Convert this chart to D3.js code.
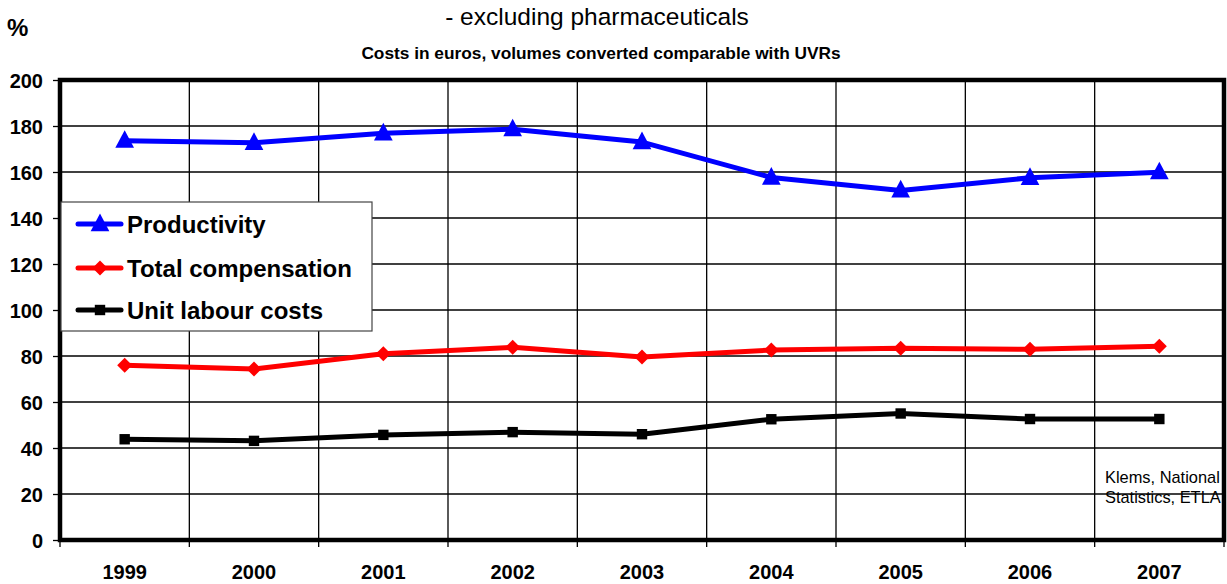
<!DOCTYPE html>
<html>
<head>
<meta charset="utf-8">
<script src="https://cdn.jsdelivr.net/npm/d3@7"></script>
<style>
  html, body { margin: 0; padding: 0; background: #fff; }
  svg { display: block; font-family: Arial, "Liberation Sans", sans-serif; }
</style>
</head>
<body>
<svg id="chart" width="1227" height="584"></svg>
<script>
// Index series, 1999–2007
const years = ["1999", "2000", "2001", "2002", "2003", "2004", "2005", "2006", "2007"];
const productivity = [173.6, 172.7, 176.8, 178.6, 173.0, 157.6, 152.0, 157.5, 159.9];
const totalCompensation = [76.0, 74.3, 81.0, 83.8, 79.6, 82.6, 83.4, 82.9, 84.2];
const unitLabourCosts = [43.8, 43.1, 45.7, 46.9, 46.0, 52.5, 55.0, 52.6, 52.6];
const yTicks = [0, 20, 40, 60, 80, 100, 120, 140, 160, 180, 200];

const seriesList = [
  { name: "Productivity", values: productivity, color: "#0000ff", marker: "triangle" },
  { name: "Total compensation", values: totalCompensation, color: "#ff0000", marker: "diamond" },
  { name: "Unit labour costs", values: unitLabourCosts, color: "#000000", marker: "square" }
];

const FONT = "Arial, 'Liberation Sans', sans-serif";
const svg = d3.select("#chart");
const m = { left: 60, right: 1224, top: 80, bottom: 540 };

const x = d3.scaleBand().domain(years).range([m.left, m.right]).padding(0);
const y = d3.scaleLinear().domain([0, 200]).range([m.bottom, m.top]);
const cx = d => x(d) + x.bandwidth() / 2;

// Titles
svg.append("text").attr("x", 597).attr("y", 25).attr("text-anchor", "middle")
  .attr("font-size", 24.5).text("- excluding pharmaceuticals");
svg.append("text").attr("x", 601).attr("y", 59).attr("text-anchor", "middle")
  .attr("font-size", 17.3).attr("font-weight", "bold")
  .text("Costs in euros, volumes converted comparable with UVRs");
svg.append("text").attr("x", 7).attr("y", 36)
  .attr("font-size", 24).attr("font-weight", "bold").text("%");

// Horizontal gridlines
svg.append("g").selectAll("line").data(yTicks.slice(1, -1)).join("line")
  .attr("x1", m.left).attr("x2", m.right)
  .attr("y1", d => y(d)).attr("y2", d => y(d))
  .attr("stroke", "#000").attr("stroke-width", 1.3);

// Vertical gridlines at category boundaries
svg.append("g").selectAll("line").data(years.slice(1)).join("line")
  .attr("x1", d => x(d)).attr("x2", d => x(d))
  .attr("y1", m.top).attr("y2", m.bottom)
  .attr("stroke", "#000").attr("stroke-width", 1.3);

// Y axis
const yAxis = svg.append("g").attr("transform", `translate(${m.left},0)`)
  .call(d3.axisLeft(y).tickValues(yTicks).tickSize(7).tickPadding(10));
yAxis.select(".domain").remove();
yAxis.selectAll(".tick line").attr("stroke", "#000").attr("stroke-width", 1.3);
yAxis.selectAll(".tick text").attr("font-size", 20).attr("font-weight", "bold")
  .attr("font-family", FONT).attr("fill", "#000").attr("dy", "0.37em");

// X axis (ticks at band boundaries, labels centred in bands)
const xg = svg.append("g");
xg.selectAll("line").data(years.concat(["end"])).join("line")
  .attr("x1", (d, i) => m.left + i * x.bandwidth())
  .attr("x2", (d, i) => m.left + i * x.bandwidth())
  .attr("y1", m.bottom).attr("y2", m.bottom + 7)
  .attr("stroke", "#000").attr("stroke-width", 1.3);
xg.selectAll("text").data(years).join("text")
  .attr("x", d => cx(d)).attr("y", 579).attr("text-anchor", "middle")
  .attr("font-size", 20).attr("font-weight", "bold").text(d => d);

// Plot frame
svg.append("rect").attr("x", m.left).attr("y", m.top)
  .attr("width", m.right - m.left).attr("height", m.bottom - m.top)
  .attr("fill", "none").attr("stroke", "#000").attr("stroke-width", 4.5);

// Source note
svg.append("text").attr("x", 1105).attr("y", 483).attr("font-size", 16.4).text("Klems, National");
svg.append("text").attr("x", 1105).attr("y", 503).attr("font-size", 16.4).text("Statistics, ETLA");

function drawMarker(g, type, color, px, py, s) {
  if (type === "triangle") {
    g.append("path").attr("d", `M${px},${py - s * 0.62}L${px + s * 0.55},${py + s * 0.42}L${px - s * 0.55},${py + s * 0.42}Z`)
      .attr("fill", color);
  } else if (type === "diamond") {
    g.append("path").attr("d", `M${px},${py - s * 0.5}L${px + s * 0.5},${py}L${px},${py + s * 0.5}L${px - s * 0.5},${py}Z`)
      .attr("fill", color);
  } else {
    g.append("rect").attr("x", px - s * 0.4).attr("y", py - s * 0.4)
      .attr("width", s * 0.8).attr("height", s * 0.8).attr("fill", color);
  }
}

const markerSize = { triangle: 17, diamond: 15, square: 13 };

// Series lines and markers
const line = d3.line().x((d, i) => cx(years[i])).y(d => y(d));
seriesList.forEach(s => {
  const g = svg.append("g");
  g.append("path").datum(s.values).attr("d", line)
    .attr("fill", "none").attr("stroke", s.color).attr("stroke-width", 5)
    .attr("stroke-linejoin", "round");
  s.values.forEach((v, i) => drawMarker(g, s.marker, s.color, cx(years[i]), y(v), markerSize[s.marker]));
});

// Legend
const lg = svg.append("g");
lg.append("rect").attr("x", 61).attr("y", 202).attr("width", 311).attr("height", 129)
  .attr("fill", "#fff").attr("stroke", "#444").attr("stroke-width", 1.2);
const rowY = [224, 268, 310];
seriesList.forEach((s, i) => {
  lg.append("line").attr("x1", 78).attr("x2", 121).attr("y1", rowY[i]).attr("y2", rowY[i])
    .attr("stroke", s.color).attr("stroke-width", 5).attr("stroke-linecap", "round");
  drawMarker(lg, s.marker, s.color, 100, rowY[i], markerSize[s.marker]);
  lg.append("text").attr("x", 127).attr("y", rowY[i] + 9).attr("font-size", 24)
    .attr("font-weight", "bold").text(s.name);
});
</script>
</body>
</html>
